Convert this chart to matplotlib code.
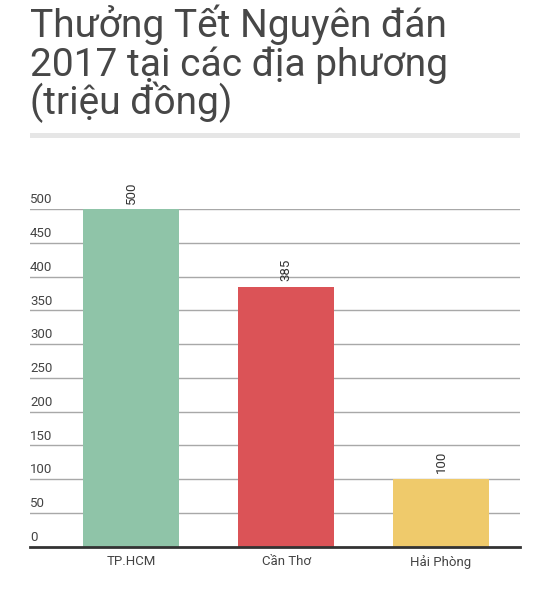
import matplotlib
matplotlib.use("Agg")
import matplotlib.pyplot as plt
from matplotlib.patches import Rectangle
from matplotlib.transforms import offset_copy

categories = ["TP.HCM", "Cần Thơ", "Hải Phòng"]
values = [500, 385, 100]
colors = ["#8FC4A8", "#DB5357", "#EFCA6B"]
yticks = [0, 50, 100, 150, 200, 250, 300, 350, 400, 450, 500]
title_lines = ["Thưởng Tết Nguyên đán", "2017 tại các địa phương", "(triệu đồng)"]

W, H = 550, 592
fig = plt.figure(figsize=(W / 100, H / 100), dpi=100)
plt.rcParams['font.family'] = ['Roboto', 'DejaVu Sans']

# Title
baselines = [37, 76, 114]
for line, b in zip(title_lines, baselines):
    fig.text(30 / W, 1 - b / H, line, fontsize=28, color="#474747",
             ha="left", va="baseline", family=['Roboto', 'DejaVu Sans'])
# grey rule
fig.add_artist(Rectangle((30 / W, 1 - 137.5 / H), 490 / W, 4.5 / H,
                         transform=fig.transFigure, color="#E6E6E6", lw=0))

ax = fig.add_axes([30 / W, 1 - 546.5 / H, 490 / W, 337.3 / H])
x = list(range(len(categories)))
ax.bar(x, values, width=0.62, color=colors, zorder=2)
ax.set_xlim(-0.652, 2.51)
ax.set_ylim(0, 500)

lbl_tr = offset_copy(ax.get_yaxis_transform(), fig=fig, x=0, y=2, units="points")
for yv in yticks:
    if yv > 0:
        ax.axhline(yv, color="#A8A8A8", lw=1, zorder=1)
    ax.text(0.0, yv, str(yv), transform=lbl_tr,
            ha="left", va="bottom", fontsize=9.5, color="#444444")

for xi, v in zip(x, values):
    ax.annotate(str(v), (xi, v), xytext=(0, 4), textcoords="offset points",
                rotation=90, ha="center", va="bottom", fontsize=9.5,
                color="#333333", annotation_clip=False)

for s in ["top", "right", "left"]:
    ax.spines[s].set_visible(False)
ax.spines["bottom"].set_color("#333333")
ax.spines["bottom"].set_linewidth(2)
ax.spines["bottom"].set_zorder(3)
ax.set_yticks([])
ax.set_xticks(x)
ax.set_xticklabels(categories, fontsize=9.5, color="#444444")
ax.tick_params(axis="x", length=0, pad=6)

fig.savefig("out.png", dpi=100)
